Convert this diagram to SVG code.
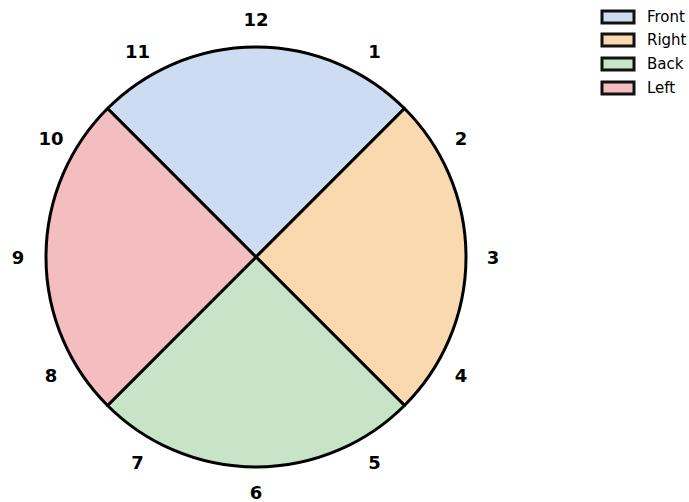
<svg xmlns="http://www.w3.org/2000/svg" width="689" height="502" viewBox="0 0 689 502">
<style>
.w{stroke:#000;stroke-width:3;stroke-linejoin:round}
.n{font-family:"DejaVu Sans",sans-serif;font-weight:bold;font-size:18px;text-anchor:middle;dominant-baseline:central;fill:#000}
.lg{stroke:#111;stroke-width:3}
.lt{font-family:"DejaVu Sans",sans-serif;font-size:15px;fill:#000;dominant-baseline:central}
</style>
<rect width="689" height="502" fill="#fff"/>
<g id="connectors"></g>
<g id="front"><path class="w" fill="#cedcf1" d="M256,257 L107.5,108.5 A210,210 0 0 1 404.5,108.5 Z"/></g>
<g id="right"><path class="w" fill="#f8d9b0" d="M256,257 L404.5,108.5 A210,210 0 0 1 404.5,405.5 Z"/></g>
<g id="back"><path class="w" fill="#c7e4c8" d="M256,257 L404.5,405.5 A210,210 0 0 1 107.5,405.5 Z"/></g>
<g id="left"><path class="w" fill="#f4bdbf" d="M256,257 L107.5,405.5 A210,210 0 0 1 107.5,108.5 Z"/></g>
<g id="labels">
<text class="n" x="256" y="19">12</text>
<text class="n" x="374.5" y="51">1</text>
<text class="n" x="461" y="138.5">2</text>
<text class="n" x="493" y="257">3</text>
<text class="n" x="461" y="375.5">4</text>
<text class="n" x="374.5" y="462">5</text>
<text class="n" x="256" y="492">6</text>
<text class="n" x="137.5" y="462">7</text>
<text class="n" x="51" y="375.5">8</text>
<text class="n" x="18" y="257">9</text>
<text class="n" x="51" y="138.5">10</text>
<text class="n" x="137.5" y="51">11</text>
</g>
<g id="legend">
<rect class="lg" x="602" y="11" width="32" height="12" fill="#cedcf1"/>
<text class="lt" x="647" y="17">Front</text>
<rect class="lg" x="602" y="34" width="32" height="12" fill="#f8d9b0"/>
<text class="lt" x="647" y="40">Right</text>
<rect class="lg" x="602" y="58" width="32" height="12" fill="#c7e4c8"/>
<text class="lt" x="647" y="64">Back</text>
<rect class="lg" x="602" y="82" width="32" height="12" fill="#f4bdbf"/>
<text class="lt" x="647" y="88">Left</text>
</g>
</svg>
